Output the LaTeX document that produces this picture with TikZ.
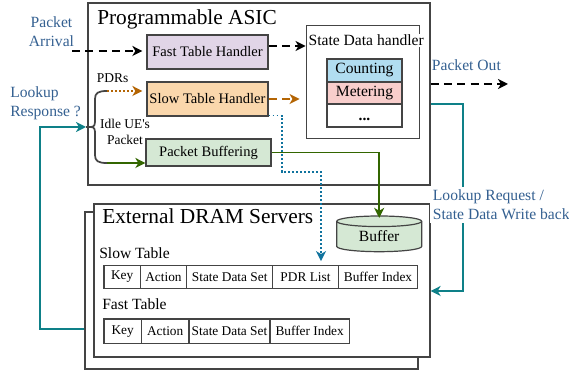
\documentclass[tikz,border=0pt]{standalone}
\usepackage{fontspec}
\setmainfont{Liberation Serif}
\usetikzlibrary{arrows.meta,calc,fit}

\definecolor{edge}{HTML}{444444}
\definecolor{lbl}{HTML}{346091}
\definecolor{fastfill}{HTML}{E1D5E7}
\definecolor{slowfill}{HTML}{FAD7AC}
\definecolor{greenfill}{HTML}{D5E8D4}
\definecolor{countfill}{HTML}{B1DDF0}
\definecolor{meterfill}{HTML}{F8CECC}
\definecolor{orangeline}{HTML}{B46504}
\definecolor{greenline}{HTML}{336600}
\definecolor{blueline}{HTML}{10739E}
\definecolor{tealline}{HTML}{0E8088}

\tikzset{
  titletext/.style={font=\fontsize{16}{19}\selectfont, inner sep=0pt},
  labeltext/.style={font=\fontsize{11.7}{14.4}\selectfont, inner sep=0pt},
  handlertext/.style={font=\fontsize{10.9}{13}\selectfont},
  smalltext/.style={font=\fontsize{10.1}{12.5}\selectfont, inner sep=0pt},
  sz/.style 2 args={minimum width=#1*0.75pt, minimum height=#2*0.75pt},
  rbox/.style={draw=edge, line width=0.9pt, inner sep=0pt},
  cell/.style={draw=edge, line width=0.9pt, inner sep=0pt, font=\fontsize{10}{12}\selectfont},
  tip/.style={-{Stealth[length=7.5pt,width=7.5pt,inset=2.2pt]}},
  dashline/.style={tip, line width=1.4pt, dash pattern=on 6pt off 4pt},
  dotline/.style={tip, line width=1.4pt, dash pattern=on 1.4pt off 1.6pt},
  solidline/.style={tip, line width=1.4pt},
}

\begin{document}
\begin{tikzpicture}[x=0.75pt,y=-0.75pt]
\useasboundingbox (0,0) rectangle (569,373);

% ---------- Programmable ASIC ----------
\node[rbox, line width=0.8pt, fit={(88,3) (430,185)}] (asic) {};
\node[titletext, anchor=base west] (asictitle) at (97,25) {Programmable ASIC};

\node[rbox, fill=fastfill, handlertext, sz={121}{34}] (fast) at (207.5,52) {Fast Table Handler};
\node[rbox, fill=slowfill, handlertext, sz={121}{34}] (slow) at (207.5,99) {Slow Table Handler};
\node[rbox, fill=greenfill, handlertext, sz={125}{27}] (pbuf) at (208.5,152.5) {Packet Buffering};

% state data handler block
\node[rbox, line width=0.7pt, fit={(306,25) (419,138)}] (state) {};
\node[labeltext, anchor=base west, fill=white, inner sep=1pt] (statetitle) at (307,45.7) {State Data handler};
\node[rbox, fill=countfill, labeltext, sz={75}{23}] (counting) at (364.5,70.5) {Counting};
\node[rbox, fill=meterfill, labeltext, sz={75}{22}] (metering) at (364.5,93) {Metering};
\node[rbox, sz={75}{23}] (more) at (364.5,115.5) {};
\node[labeltext, anchor=base] (moredots) at (364.5,120.5) {\textbf{...}};

% ---------- External DRAM servers ----------
\node[rbox, fill=white, fit={(85,212) (418,369)}] (dramback) {};
\node[rbox, fill=white, fit={(94,204) (430,357)}] (dram) {};
\node[titletext, anchor=base west] (dramtitle) at (102,223.3) {External DRAM Servers};

% buffer cylinder
\path[draw=edge, fill=greenfill, line width=0.9pt]
  (336.7,221.3) -- (336.7,246.4)
  arc[start angle=180, end angle=0, x radius=42.5, y radius=5.3]
  -- (421.7,221.3)
  arc[start angle=0, end angle=-180, x radius=42.5, y radius=5.3] -- cycle;
\draw[edge, line width=0.9pt] (336.7,221.3) arc[start angle=180, end angle=0, x radius=42.5, y radius=5.3];
\node[labeltext, sz={85}{30}] (buffer) at (379.2,236.5) {Buffer};

% slow table
\node[labeltext, anchor=base west] (slowlabel) at (99,258.3) {Slow Table};
\node[cell, sz={36.3}{22.6}] (skey) at (122.15,277) {Key};
\node[cell, sz={46.4}{22.6}] (sact) at (163.5,277) {Action};
\node[cell, sz={86}{22.6}] (ssds) at (229.7,277) {State Data Set};
\node[cell, sz={65.6}{22.6}] (spdr) at (305.5,277) {PDR List};
\node[cell, sz={79.4}{22.6}] (sbuf) at (378,277) {Buffer Index};

% fast table
\node[labeltext, anchor=base west] (fastlabel) at (102,310) {Fast Table};
\node[cell, sz={37.3}{24.3}] (fkey) at (122.65,331.15) {Key};
\node[cell, sz={47.7}{24.3}] (fact) at (165.15,331.15) {Action};
\node[cell, sz={81}{24.3}] (fsds) at (229.5,331.15) {State Data Set};
\node[cell, sz={79.3}{24.3}] (fbuf) at (309.65,331.15) {Buffer Index};

% ---------- outside labels (base = last line) ----------
\node[labeltext, text=lbl, anchor=base, align=center] (arrival) at (51.5,46.7) {Packet\\Arrival};
\node[labeltext, text=lbl, anchor=base west, align=left] (response) at (10,116.7) {Lookup\\Response ?};
\node[labeltext, text=lbl, anchor=base west] (pktout) at (431.7,71) {Packet Out};
\node[smalltext, anchor=base west] (pdrs) at (96.7,82.7) {PDRs};
\node[smalltext, anchor=base, align=center] (idle) at (125,145) {Idle UE\textquotesingle s\\Packet};

% ---------- connectors ----------
\coordinate (arrin) at (72,51);
\draw[dashline, black, shorten >=3pt] (arrin) -- (arrin -| fast.west);

\coordinate (fastout) at ($(fast.east)+(0,-6)$);
\draw[dashline, black] (fastout) -- (fastout -| state.west);

\draw[dashline, orangeline] (slow.east) -- ($(slow.east -| state.west)+(-6,0)$);

% brace splitting the lookup response
\coordinate (bmid) at (86,127);
\coordinate (bup) at (107,91);
\coordinate (bdown) at (107,163);
\draw[edge, line width=1.3pt]
  (bmid) -- (91,127) .. controls (95,127) and (95,124) .. (95,119)
  -- (95,99) .. controls (95,93) and (98,91) .. (bup);
\draw[edge, line width=1.3pt]
  (91,127) .. controls (95,127) and (95,130) .. (95,135)
  -- (95,155) .. controls (95,161) and (98,163) .. (bdown);
\draw[dotline, orangeline, shorten >=3pt] (bup) -- (bup -| slow.west);
\draw[solidline, greenline] (bdown) -- (bdown -| pbuf.west);

% packet buffering to DRAM buffer
\draw[solidline, greenline, shorten >=1pt] (pbuf.east) -| ($(buffer.north)+(0,-2)$);

% slow table handler to PDR list
\coordinate (bd1) at (282,172);
\coordinate (bd2) at (321,172);
\draw[dotline, blueline, line width=1.2pt, shorten >=3pt]
  ($(slow.south east)+(0,-1)$) -- ($(slow.south east -| bd1)+(0,-1)$) -- (bd1) -- (bd2) -- (bd2 |- spdr.north);

% lookup request / write back
\coordinate (rq) at (463,104);
\coordinate (rqturn) at (463,291);
\draw[solidline, tealline] (asic.east |- rq) -- (rq) -- (rqturn) -- (rqturn -| dram.east);
\node[labeltext, text=lbl, anchor=base west, align=left, fill=white, inner sep=2pt] (request) at (430,220) {Lookup Request /\\State Data Write back};

% lookup response back to the ASIC
\coordinate (lrturn) at (40,329);
\draw[solidline, tealline] (dramback.west |- lrturn) -- (lrturn) |- (bmid);

% packet out
\coordinate (po) at (432,84);
\coordinate (poend) at (508,84);
\draw[dashline, black] (asic.east |- po) -- (poend);
\end{tikzpicture}
\end{document}
